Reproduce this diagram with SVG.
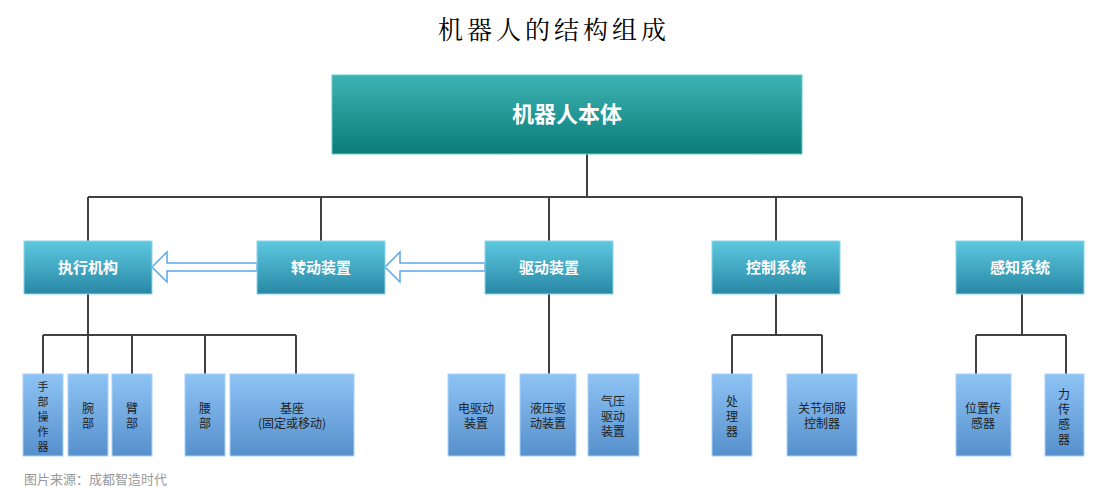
<svg xmlns="http://www.w3.org/2000/svg" width="1108" height="497" viewBox="0 0 1108 497">
<style>
text{font-family:"Noto Sans CJK SC","Liberation Sans",sans-serif;text-anchor:middle}
.t2{fill:#fff;font-size:15px;font-weight:bold}
.t3{fill:#222;font-size:12px}
.t3s{fill:#222;font-size:11px}
.l{stroke:#404040;stroke-width:2;fill:none}
.b2{fill:url(#g2);stroke:#8fd3e8;stroke-width:1}
.b3{fill:url(#g3);stroke:#a8d2fa;stroke-width:1}
.ha{fill:#fff;stroke:#5aa8e8;stroke-width:1.5}
</style>
<defs>
<linearGradient id="g1" x1="0" y1="0" x2="0" y2="1"><stop offset="0" stop-color="#3db3b3"/><stop offset="1" stop-color="#0b7c78"/></linearGradient>
<linearGradient id="g2" x1="0" y1="0" x2="0" y2="1"><stop offset="0" stop-color="#5ec8df"/><stop offset="1" stop-color="#2888a5"/></linearGradient>
<linearGradient id="g3" x1="0" y1="0" x2="0" y2="1"><stop offset="0" stop-color="#8ec3f5"/><stop offset="1" stop-color="#5690cc"/></linearGradient>
</defs>
<rect width="1108" height="497" fill="#fff"/>
<text x="554" y="39" style="font-family:'Noto Serif CJK SC','Liberation Serif','Noto Sans CJK SC',serif;font-size:25px;letter-spacing:4px;fill:#000">机器人的结构组成</text>
<g id="connectors">
<path class="l" d="M587 154V197M88 197H1022M88 197V241M321 197V241M549 197V241M776 197V241M1022 197V241"/>
<path class="l" d="M88 294V335M43 335H296M43 335V374M132 335V374M205 335V374M296 335V374M88 335V374"/>
<path class="l" d="M549 294V374"/>
<path class="l" d="M776 294V335M732 335H822M732 335V374M822 335V374"/>
<path class="l" d="M1022 294V335M976 335H1066M976 335V374M1066 335V374"/>
<polygon class="ha" points="257,263 167,263 167,252 152,267 167,282 167,271 257,271"/>
<polygon class="ha" points="485,263 400,263 400,252 385,267 400,282 400,271 485,271"/>
</g>
<g id="n0"><rect x="332" y="75" width="470" height="79" fill="url(#g1)" stroke="#6cc" stroke-width="1"/><text x="567" y="122" style="fill:#fff;font-size:22px;font-weight:bold">机器人本体</text></g>
<g id="n1"><rect class="b2" x="24" y="241" width="128" height="53"/><text class="t2" x="88" y="273">执行机构</text></g>
<g id="n2"><rect class="b2" x="257" y="241" width="128" height="53"/><text class="t2" x="321" y="273">转动装置</text></g>
<g id="n3"><rect class="b2" x="485" y="241" width="128" height="53"/><text class="t2" x="549" y="273">驱动装置</text></g>
<g id="n4"><rect class="b2" x="712" y="241" width="128" height="53"/><text class="t2" x="776" y="273">控制系统</text></g>
<g id="n5"><rect class="b2" x="956" y="241" width="128" height="53"/><text class="t2" x="1020" y="273">感知系统</text></g>
<g id="n6"><rect class="b3" x="23" y="374" width="40" height="82"/><text class="t3s" x="43" y="391">手</text><text class="t3s" x="43" y="406">部</text><text class="t3s" x="43" y="421">操</text><text class="t3s" x="43" y="436">作</text><text class="t3s" x="43" y="451">器</text></g>
<g id="n7"><rect class="b3" x="68" y="374" width="40" height="82"/><text class="t3" x="88" y="413">腕</text><text class="t3" x="88" y="428">部</text></g>
<g id="n8"><rect class="b3" x="112" y="374" width="40" height="82"/><text class="t3" x="132" y="413">臂</text><text class="t3" x="132" y="428">部</text></g>
<g id="n9"><rect class="b3" x="185" y="374" width="40" height="82"/><text class="t3" x="205" y="413">腰</text><text class="t3" x="205" y="428">部</text></g>
<g id="n10"><rect class="b3" x="230" y="374" width="124" height="82"/><text class="t3" x="292" y="413">基座</text><text class="t3" x="292" y="428">(固定或移动)</text></g>
<g id="n11"><rect class="b3" x="448" y="374" width="57" height="82"/><text class="t3" x="476" y="413">电驱动</text><text class="t3" x="476" y="428">装置</text></g>
<g id="n12"><rect class="b3" x="520" y="374" width="56" height="82"/><text class="t3" x="548" y="413">液压驱</text><text class="t3" x="548" y="428">动装置</text></g>
<g id="n13"><rect class="b3" x="588" y="374" width="51" height="82"/><text class="t3" x="613" y="406">气压</text><text class="t3" x="613" y="421">驱动</text><text class="t3" x="613" y="436">装置</text></g>
<g id="n14"><rect class="b3" x="712" y="374" width="40" height="82"/><text class="t3" x="732" y="406">处</text><text class="t3" x="732" y="421">理</text><text class="t3" x="732" y="436">器</text></g>
<g id="n15"><rect class="b3" x="787" y="374" width="70" height="82"/><text class="t3" x="822" y="413">关节伺服</text><text class="t3" x="822" y="428">控制器</text></g>
<g id="n16"><rect class="b3" x="956" y="374" width="55" height="82"/><text class="t3" x="983" y="413">位置传</text><text class="t3" x="983" y="428">感器</text></g>
<g id="n17"><rect class="b3" x="1045" y="374" width="39" height="82"/><text class="t3" x="1064" y="399">力</text><text class="t3" x="1064" y="414">传</text><text class="t3" x="1064" y="429">感</text><text class="t3" x="1064" y="444">器</text></g>
<text x="24" y="484" style="text-anchor:start;font-size:13px;fill:#999">图片来源：成都智造时代</text>
</svg>
